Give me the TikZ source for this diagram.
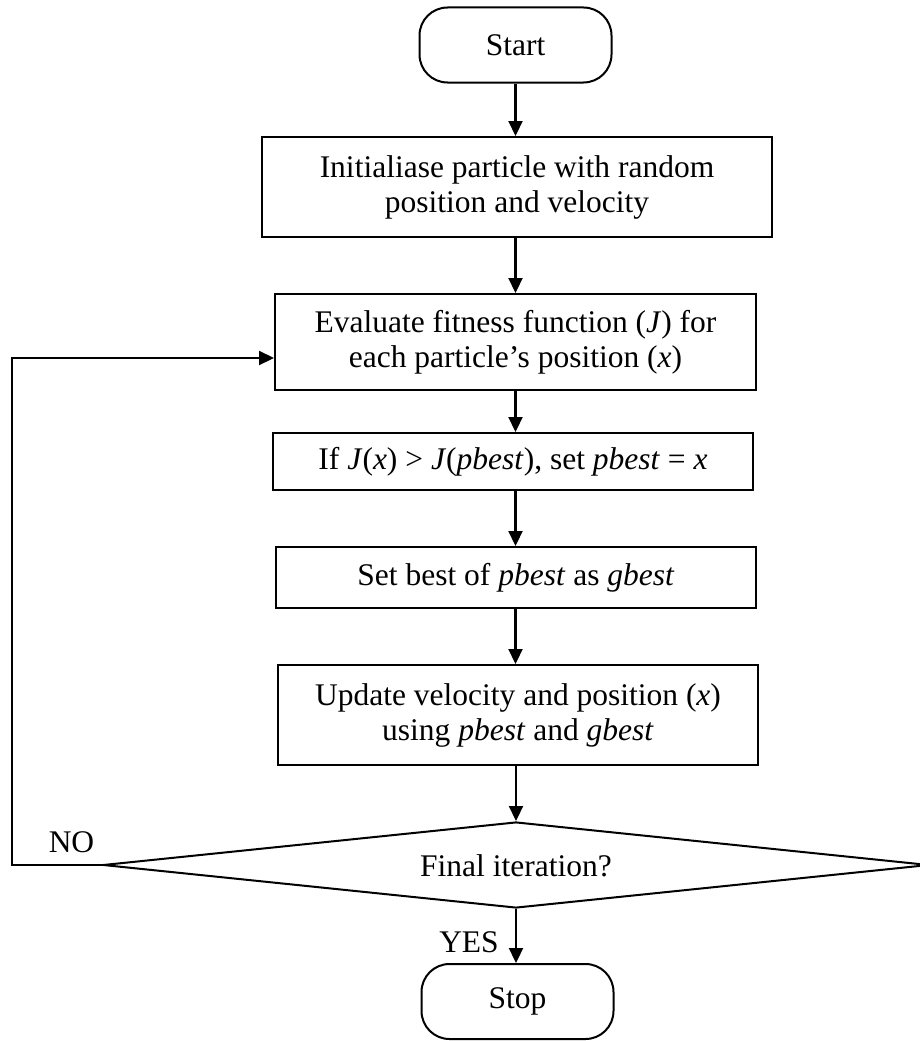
\documentclass[tikz,border=0pt]{standalone}
\usepackage{fontspec}
\setmainfont{Liberation Serif}
\usetikzlibrary{arrows.meta,shapes.geometric}

\begin{document}
\begin{tikzpicture}[x=1pt,y=-1pt,
  every node/.style={font=\fontsize{31.5}{35}\selectfont},
  proc/.style={draw, line width=2pt, rectangle, inner sep=0pt, align=center},
  term/.style={draw, line width=2pt, rectangle, rounded corners=28pt, inner sep=0pt,
               minimum width=192pt, minimum height=75pt},
  flow/.style={line width=2.2pt, -{Triangle[length=15pt,width=14pt]}},
  lbl/.style={inner sep=0pt}]
\useasboundingbox (0,0) rectangle (919,1041);

% terminals
\node[term] (start) at (515.5,45) {Start};
\node[term] (stop)  at (517.5,1001.5) {Stop};

% process boxes
\node[proc, minimum width=510pt, minimum height=100pt] (init) at (517,187)
  {Initialiase particle with random\\position and velocity};
\node[proc, minimum width=481pt, minimum height=96pt] (eval) at (515.5,342)
  {Evaluate fitness function (\textit{J}) for\\each particle’s position (\textit{x})};
\node[proc, minimum width=480pt, minimum height=57pt] (upd1) at (513,461.5)
  {If \textit{J}(\textit{x}) > \textit{J}(\textit{pbest}), set \textit{pbest} = \textit{x}};
\node[proc, minimum width=480pt, minimum height=61pt] (gb) at (516,577.5)
  {Set best of \textit{pbest} as \textit{gbest}};
\node[proc, minimum width=480pt, minimum height=100pt] (move) at (518,715)
  {Update velocity and position (\textit{x})\\using \textit{pbest} and \textit{gbest}};

% decision
\node[draw, diamond, line width=2pt, inner sep=0pt, aspect=9.6,
      minimum width=826pt, minimum height=86pt] (dec) at (516,865) {};
\node[lbl] (dectext) at (516,866) {Final iteration?};

% branch labels
\node[lbl] (no)  at (71.5,842) {NO};
\node[lbl] (yes) at (469,942) {YES};

% main flow
\draw[flow] (start.south) -- (start.south |- init.north);
\draw[flow] (init.south -| start.south) -- (start.south |- eval.north);
\draw[flow] (eval.south -| start.south) -- (start.south |- upd1.north);
\draw[flow] (upd1.south -| start.south) -- (start.south |- gb.north);
\draw[flow] (gb.south -| start.south) -- (start.south |- move.north);
\draw[flow] (move.south -| dec.north) -- (dec.north);
\draw[flow] (dec.south) -- (dec.south |- stop.north);

% loop back when not finished
\coordinate (bend) at (12,865);
\draw[flow] (dec.west) -- (bend) |- ([yshift=-16pt]eval.west);
\end{tikzpicture}
\end{document}
